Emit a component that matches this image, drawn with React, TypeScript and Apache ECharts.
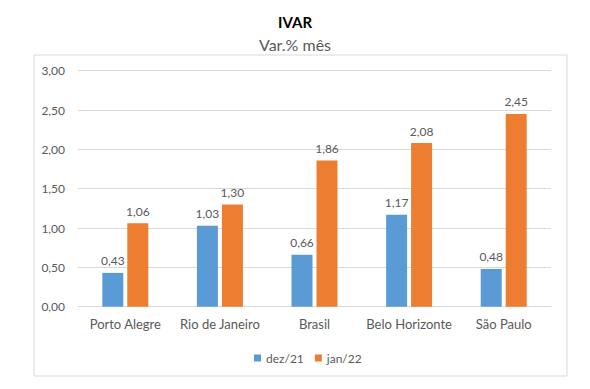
import React, { useEffect, useRef } from "react";
import * as echarts from "echarts";

const categories = ["Porto Alegre", "Rio de Janeiro", "Brasil", "Belo Horizonte", "São Paulo"];
const dez21 = [0.43, 1.03, 0.66, 1.17, 0.48];
const jan22 = [1.06, 1.3, 1.86, 2.08, 2.45];
const seriesNames = ["dez/21", "jan/22"];

const FONT = "Lato";
const TEXT = "#595959";
const fmt = (v: number) => Number(v).toFixed(2).replace(".", ",");

export default function App() {
  const ref = useRef<HTMLDivElement>(null);
  useEffect(() => {
    const chart = echarts.init(ref.current!, null, { renderer: "svg" });
    chart.setOption({
      animation: false,
      backgroundColor: "#ffffff",
      textStyle: { fontFamily: FONT },
      title: [
        {
          text: "IVAR",
          left: "center",
          top: 14,
          padding: 0,
          textStyle: { fontFamily: FONT, fontSize: 15, fontWeight: "bold", color: "#000000" },
        },
        {
          text: "Var.% mês",
          left: "center",
          top: 36,
          padding: 0,
          textStyle: { fontFamily: FONT, fontSize: 16, fontWeight: "normal", color: TEXT },
        },
      ],
      graphic: [
        {
          type: "rect",
          shape: { x: 34, y: 55, width: 533, height: 321 },
          style: { fill: "none", stroke: "#D9D9D9", lineWidth: 1 },
          silent: true,
        },
      ],
      legend: {
        data: seriesNames,
        left: 249,
        top: 347,
        itemWidth: 7,
        itemHeight: 7,
        itemGap: 11,
        icon: "rect",
        textStyle: { fontFamily: FONT, fontSize: 12, color: TEXT },
      },
      grid: { left: 78, right: 39, top: 70.7, bottom: 82.3, containLabel: false },
      xAxis: {
        type: "category",
        data: categories,
        axisLine: { lineStyle: { color: "#D9D9D9" } },
        axisTick: { show: false },
        axisLabel: { fontFamily: FONT, fontSize: 13, color: TEXT, margin: 11, interval: 0 },
      },
      yAxis: {
        type: "value",
        min: 0,
        max: 3,
        interval: 0.5,
        axisLine: { show: false },
        axisTick: { show: false },
        splitLine: { lineStyle: { color: "#D9D9D9" } },
        axisLabel: { fontFamily: FONT, fontSize: 12, color: TEXT, margin: 13, formatter: fmt },
      },
      series: [
        {
          name: seriesNames[0],
          type: "bar",
          data: dez21,
          barWidth: 21,
          barGap: "19%",
          itemStyle: { color: "#5B9BD5" },
          label: { show: true, position: "top", distance: 6, fontFamily: FONT, fontSize: 12, color: TEXT, formatter: (p: any) => fmt(p.value) },
        },
        {
          name: seriesNames[1],
          type: "bar",
          data: jan22,
          barWidth: 21,
          barGap: "19%",
          itemStyle: { color: "#ED7D31" },
          label: { show: true, position: "top", distance: 6, fontFamily: FONT, fontSize: 12, color: TEXT, formatter: (p: any) => fmt(p.value) },
        },
      ],
    });
    return () => chart.dispose();
  }, []);
  return <div ref={ref} style={{ position: "fixed", left: 0, top: 0, width: 590, height: 389 }} />;
}
